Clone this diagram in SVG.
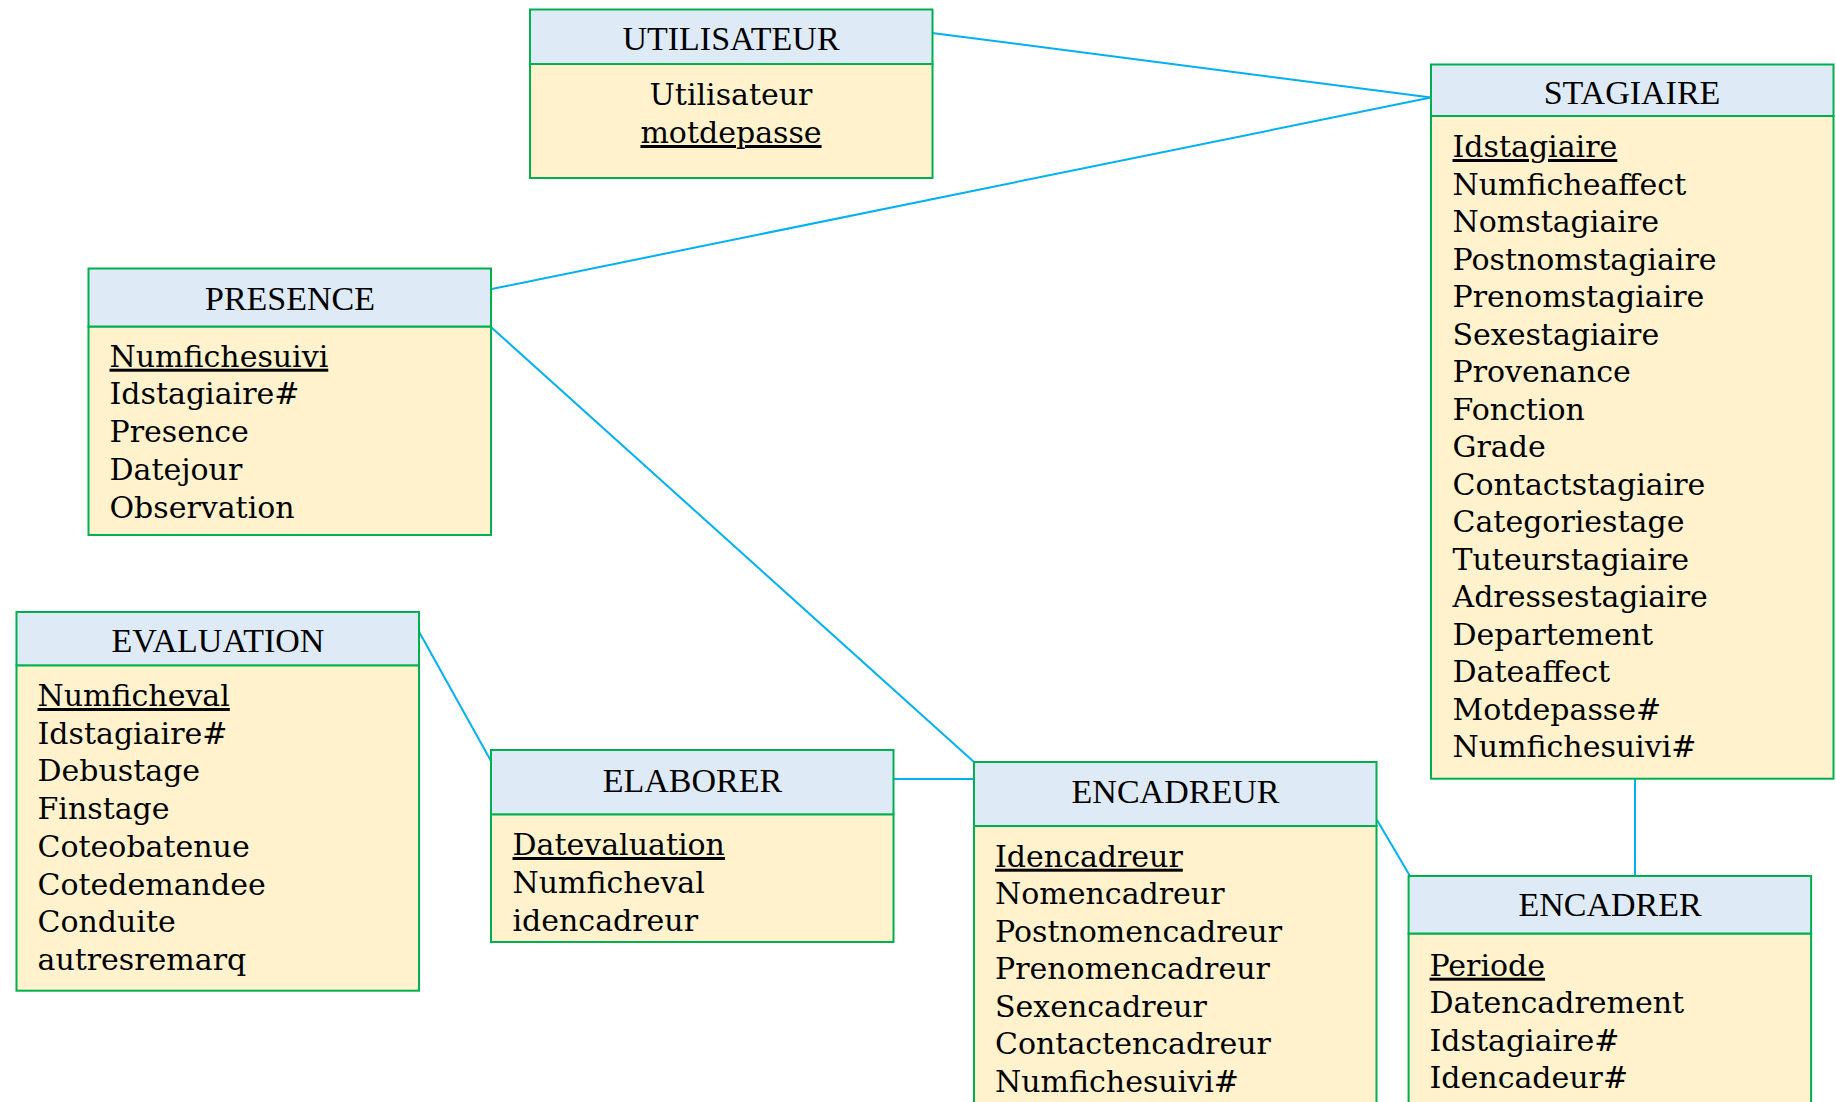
<svg xmlns="http://www.w3.org/2000/svg" width="1836" height="1102" viewBox="0 0 1836 1102">
<style>
.bg{fill:#ffffff}
.hd{fill:#DEEAF6;stroke:#00B050;stroke-width:2}
.bd{fill:#FFF2CC;stroke:#00B050;stroke-width:2}
.ht{font-family:"Liberation Serif","Times New Roman",serif;font-size:34px;fill:#000;text-anchor:middle}
.at{font-family:"DejaVu Serif","Liberation Serif",serif;font-size:30px;fill:#000}
.c{text-anchor:middle}
.u{text-decoration:underline}
.ln{stroke:#00B0F0;stroke-width:2;fill:none}
</style>
<rect class="bg" x="0" y="0" width="1836" height="1102"/>
<g id="connectors">
<line class="ln" x1="932" y1="33" x2="1431" y2="97.5"/>
<line class="ln" x1="1431" y1="97.5" x2="490.6" y2="289.2"/>
<line class="ln" x1="490.6" y1="326.7" x2="974" y2="762"/>
<line class="ln" x1="419.2" y1="632" x2="491" y2="761"/>
<line class="ln" x1="894" y1="779" x2="974" y2="779"/>
<line class="ln" x1="1377" y1="820" x2="1410" y2="876"/>
<line class="ln" x1="1635" y1="778.7" x2="1635" y2="876"/>
</g>
<g id="utilisateur">
<rect class="bd" x="530" y="64" width="402.5" height="114"/>
<rect class="hd" x="530" y="9.5" width="402.5" height="54.5"/>
<text class="ht" x="731" y="50">UTILISATEUR</text>
<text class="at c" x="731" y="105">Utilisateur</text>
<text class="at c u" x="731" y="143">motdepasse</text>
</g>
<g id="stagiaire">
<rect class="bd" x="1431" y="116" width="402.5" height="662.7"/>
<rect class="hd" x="1431" y="64.5" width="402.5" height="51.5"/>
<text class="ht" x="1632" y="104">STAGIAIRE</text>
<text class="at" x="1452.5" y="157"><tspan class="u">Idstagiaire</tspan><tspan x="1452.5" dy="37.5">Numficheaffect</tspan><tspan x="1452.5" dy="37.5">Nomstagiaire</tspan><tspan x="1452.5" dy="37.5">Postnomstagiaire</tspan><tspan x="1452.5" dy="37.5">Prenomstagiaire</tspan><tspan x="1452.5" dy="37.5">Sexestagiaire</tspan><tspan x="1452.5" dy="37.5">Provenance</tspan><tspan x="1452.5" dy="37.5">Fonction</tspan><tspan x="1452.5" dy="37.5">Grade</tspan><tspan x="1452.5" dy="37.5">Contactstagiaire</tspan><tspan x="1452.5" dy="37.5">Categoriestage</tspan><tspan x="1452.5" dy="37.5">Tuteurstagiaire</tspan><tspan x="1452.5" dy="37.5">Adressestagiaire</tspan><tspan x="1452.5" dy="37.5">Departement</tspan><tspan x="1452.5" dy="37.5">Dateaffect</tspan><tspan x="1452.5" dy="37.5">Motdepasse#</tspan><tspan x="1452.5" dy="37.5">Numfichesuivi#</tspan></text>
</g>
<g id="presence">
<rect class="bd" x="88.5" y="326.5" width="402.5" height="208.5"/>
<rect class="hd" x="88.5" y="268.5" width="402.5" height="58"/>
<text class="ht" x="290" y="310">PRESENCE</text>
<text class="at" x="109.5" y="366.7"><tspan class="u">Numfichesuivi</tspan><tspan x="109.5" dy="37.7">Idstagiaire#</tspan><tspan x="109.5" dy="37.7">Presence</tspan><tspan x="109.5" dy="37.7">Datejour</tspan><tspan x="109.5" dy="37.7">Observation</tspan></text>
</g>
<g id="evaluation">
<rect class="bd" x="16.5" y="665.3" width="402.5" height="325.4"/>
<rect class="hd" x="16.5" y="612" width="402.5" height="53.3"/>
<text class="ht" x="218" y="652">EVALUATION</text>
<text class="at" x="37.5" y="706"><tspan class="u">Numficheval</tspan><tspan x="37.5" dy="37.7">Idstagiaire#</tspan><tspan x="37.5" dy="37.7">Debustage</tspan><tspan x="37.5" dy="37.7">Finstage</tspan><tspan x="37.5" dy="37.7">Coteobatenue</tspan><tspan x="37.5" dy="37.7">Cotedemandee</tspan><tspan x="37.5" dy="37.7">Conduite</tspan><tspan x="37.5" dy="37.7">autresremarq</tspan></text>
</g>
<g id="elaborer">
<rect class="bd" x="491" y="814.3" width="402.5" height="127.7"/>
<rect class="hd" x="491" y="750" width="402.5" height="64.3"/>
<text class="ht" x="692.5" y="792">ELABORER</text>
<text class="at" x="512.5" y="855"><tspan class="u">Datevaluation</tspan><tspan x="512.5" dy="37.8">Numficheval</tspan><tspan x="512.5" dy="37.8">idencadreur</tspan></text>
</g>
<g id="encadreur">
<rect class="bd" x="974" y="826" width="402.5" height="290"/>
<rect class="hd" x="974" y="762" width="402.5" height="64"/>
<text class="ht" x="1175.5" y="803">ENCADREUR</text>
<text class="at" x="995" y="866.7"><tspan class="u">Idencadreur</tspan><tspan x="995" dy="37.5">Nomencadreur</tspan><tspan x="995" dy="37.5">Postnomencadreur</tspan><tspan x="995" dy="37.5">Prenomencadreur</tspan><tspan x="995" dy="37.5">Sexencadreur</tspan><tspan x="995" dy="37.5">Contactencadreur</tspan><tspan x="995" dy="37.5">Numfichesuivi#</tspan></text>
</g>
<g id="encadrer">
<rect class="bd" x="1408.6" y="933.5" width="402.5" height="180"/>
<rect class="hd" x="1408.6" y="876" width="402.5" height="57.5"/>
<text class="ht" x="1610" y="916">ENCADRER</text>
<text class="at" x="1429.5" y="975.7"><tspan class="u">Periode</tspan><tspan x="1429.5" dy="37.5">Datencadrement</tspan><tspan x="1429.5" dy="37.5">Idstagiaire#</tspan><tspan x="1429.5" dy="37.5">Idencadeur#</tspan></text>
</g>
</svg>
